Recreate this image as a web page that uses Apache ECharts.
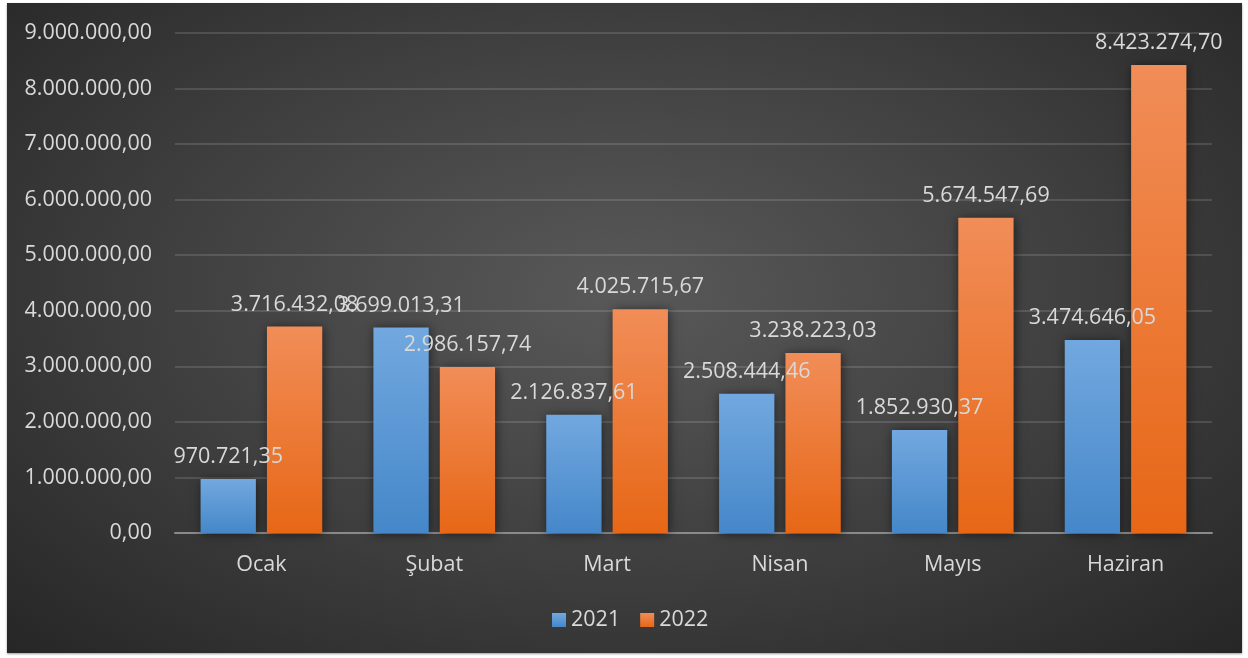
<!DOCTYPE html>
<html>
<head>
<meta charset="utf-8">
<script src="https://cdn.jsdelivr.net/npm/echarts@6/dist/echarts.min.js"></script>
<style>
html,body{margin:0;padding:0;background:#fff;width:1248px;height:658px;overflow:hidden;}
#chart{position:absolute;left:7px;top:3px;width:1235px;height:650px;
background:radial-gradient(ellipse at 50% 45%, #595959 0%, #3e3e3e 55%, #262626 100%);
box-shadow:0 1px 2px rgba(0,0,0,0.4);}
</style>
</head>
<body>
<div id="chart"></div>
<script>
var categories = ['Ocak', 'Şubat', 'Mart', 'Nisan', 'Mayıs', 'Haziran'];
var values2021 = [970721.35, 3699013.31, 2126837.61, 2508444.46, 1852930.37, 3474646.05];
var values2022 = [3716432.08, 2986157.74, 4025715.67, 3238223.03, 5674547.69, 8423274.70];
var seriesNames = ['2021', '2022'];

function trFormat(v) {
  var s = Number(v).toFixed(2);
  var parts = s.split('.');
  var intPart = parts[0].replace(/\B(?=(\d{3})+(?!\d))/g, '.');
  return intPart + ',' + parts[1];
}

var FONT = '"Open Sans", "Noto Sans", sans-serif';
var FS = 21.5;
var chart = echarts.init(document.getElementById('chart'), null, {renderer: 'canvas'});

function grad(top, bottom) {
  return new echarts.graphic.LinearGradient(0, 0, 0, 1, [
    {offset: 0, color: top}, {offset: 1, color: bottom}
  ]);
}

var labelCfg = {
  show: true,
  position: 'top',
  distance: 11,
  color: '#d9d9d9',
  fontSize: FS,
  fontFamily: FONT,
  formatter: function (p) { return trFormat(p.value); }
};

chart.setOption({
  backgroundColor: 'transparent',
  animation: false,
  textStyle: {fontFamily: FONT},
  grid: {left: 168, right: 30, top: 30, bottom: 120, containLabel: false},
  legend: {
    data: seriesNames,
    top: 601,
    left: 540,
    itemWidth: 14,
    itemHeight: 14,
    itemGap: 20,
    icon: 'rect',
    textStyle: {color: '#d9d9d9', fontSize: FS, fontFamily: FONT}
  },
  xAxis: {
    type: 'category',
    data: categories,
    axisLine: {show: true, lineStyle: {color: '#8a8a8a', width: 2}},
    axisTick: {show: false},
    axisLabel: {color: '#d9d9d9', fontSize: FS, fontFamily: FONT, margin: 21}
  },
  yAxis: {
    type: 'value',
    min: 0,
    max: 9000000,
    interval: 1000000,
    axisLine: {show: false},
    axisTick: {show: false},
    splitLine: {lineStyle: {color: 'rgba(255,255,255,0.13)', width: 2}},
    axisLabel: {color: '#d9d9d9', fontSize: FS, fontFamily: FONT, margin: 23,
      formatter: function (v) { return trFormat(v); }}
  },
  series: [
    {
      name: seriesNames[0],
      type: 'bar',
      data: values2021,
      barWidth: '32%',
      barGap: '20%',
      itemStyle: {color: grad('#72a8df', '#4587c9'), shadowBlur: 10, shadowColor: 'rgba(0,0,0,0.55)', shadowOffsetX: 1, shadowOffsetY: 1},
      label: labelCfg
    },
    {
      name: seriesNames[1],
      type: 'bar',
      data: values2022,
      barWidth: '32%',
      itemStyle: {color: grad('#f18d58', '#e76716'), shadowBlur: 10, shadowColor: 'rgba(0,0,0,0.55)', shadowOffsetX: 1, shadowOffsetY: 1},
      label: labelCfg
    }
  ]
});
</script>
</body>
</html>
